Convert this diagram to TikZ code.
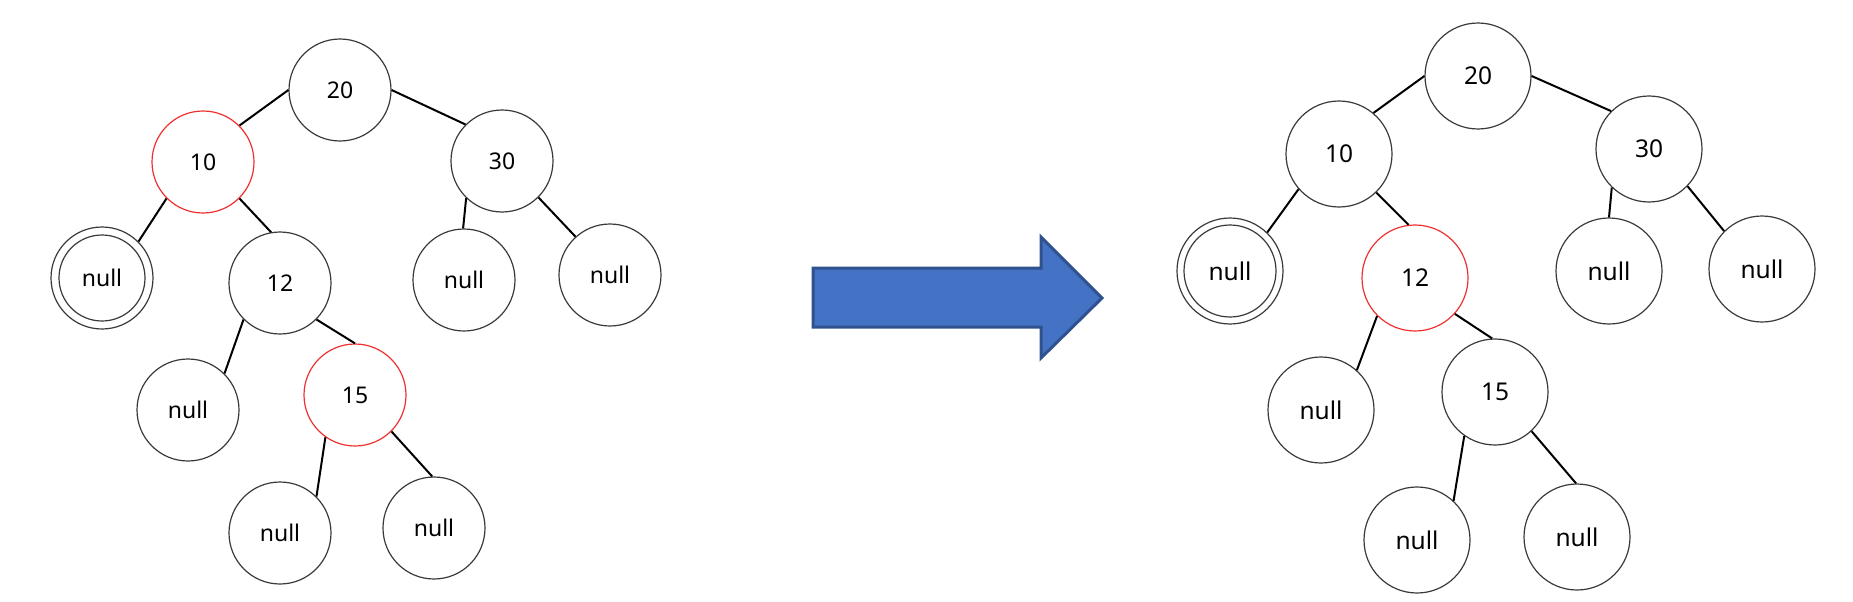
\documentclass[tikz,border=0pt]{standalone}
\usepackage{fontspec}
\setmainfont{Noto Sans}
\definecolor{ringgray}{HTML}{3A3A3A}
\definecolor{ringred}{HTML}{F03030}
\definecolor{arrowfill}{HTML}{4472C4}
\definecolor{arrowline}{HTML}{2F528F}
\begin{document}
\begin{tikzpicture}[x=1pt,y=-1pt,
  tn/.style={circle, draw=ringgray, line width=1.2pt, minimum size=102pt, inner sep=0pt,
    font=\fontsize{23}{23}\selectfont},
  tnr/.style={tn, minimum size=106pt, font=\fontsize{24.5}{24.5}\selectfont},
  hot/.style={draw=ringred},
  lnk/.style={line width=2pt, black},
  bigarrow/.style={fill=arrowfill, draw=arrowline, line width=3pt, line join=miter}
]
\useasboundingbox (0,0) rectangle (1853,602);

% ---------------- left tree ----------------
\node[tn] (L20) at (340,90) {20};
\node[tn,hot] (L10) at (203,162) {10};
\node[tn] (L30) at (502,161) {30};
\node[tn] (Ln1) at (102,278) {null};
\draw[ringgray, line width=1.2pt] (Ln1.center) circle (43pt);
\node[tn] (L12) at (280,283) {12};
\node[tn] (Ln2) at (464,280) {null};
\node[tn] (Ln3) at (610,275) {null};
\node[tn] (Ln4) at (188,410) {null};
\node[tn,hot] (L15) at (355,395) {15};
\node[tn] (Ln5) at (280,533) {null};
\node[tn] (Ln6) at (434,528) {null};

\draw[lnk] (L20.180) -- (L10.45);
\draw[lnk] (L20.0) -- (L30.135);
\draw[lnk] (L10.225) -- (Ln1.45);
\draw[lnk] (L10.-45) -- (L12.100);
\draw[lnk] (L30.226) -- (Ln2.91);
\draw[lnk] (L30.-45) -- (Ln3.132);
\draw[lnk] (L12.225) -- (Ln4.45);
\draw[lnk] (L12.-45) -- (L15.90);
\draw[lnk] (L15.235) -- (Ln5.45);
\draw[lnk] (L15.-45) -- (Ln6.92);

% ---------------- arrow ----------------
\draw[bigarrow] (813,268) -- (1041,268) -- (1041,237) -- (1102,298) -- (1041,358) -- (1041,327) -- (813,327) -- cycle;

% ---------------- right tree ----------------
\node[tnr] (R20) at (1478,76) {20};
\node[tnr] (R10) at (1339,154) {10};
\node[tnr] (R30) at (1649,149) {30};
\node[tnr] (Rn1) at (1230,271) {null};
\draw[ringgray, line width=1.2pt] (Rn1.center) circle (46pt);
\node[tnr,hot] (R12) at (1415,278) {12};
\node[tnr] (Rn2) at (1609,271) {null};
\node[tnr] (Rn3) at (1762,269) {null};
\node[tnr] (Rn4) at (1321,410) {null};
\node[tnr] (R15) at (1495,392) {15};
\node[tnr] (Rn5) at (1417,540) {null};
\node[tnr] (Rn6) at (1577,537) {null};

\draw[lnk] (R20.180) -- (R10.50);
\draw[lnk] (R20.0) -- (R30.135);
\draw[lnk] (R10.221) -- (Rn1.46);
\draw[lnk] (R10.-46) -- (R12.97);
\draw[lnk] (R30.226) -- (Rn2.90);
\draw[lnk] (R30.-44) -- (Rn3.135);
\draw[lnk] (R12.225) -- (Rn4.48);
\draw[lnk] (R12.-42) -- (R15.93);
\draw[lnk] (R15.235) -- (Rn5.47);
\draw[lnk] (R15.-47) -- (Rn6.91);
\end{tikzpicture}
\end{document}
